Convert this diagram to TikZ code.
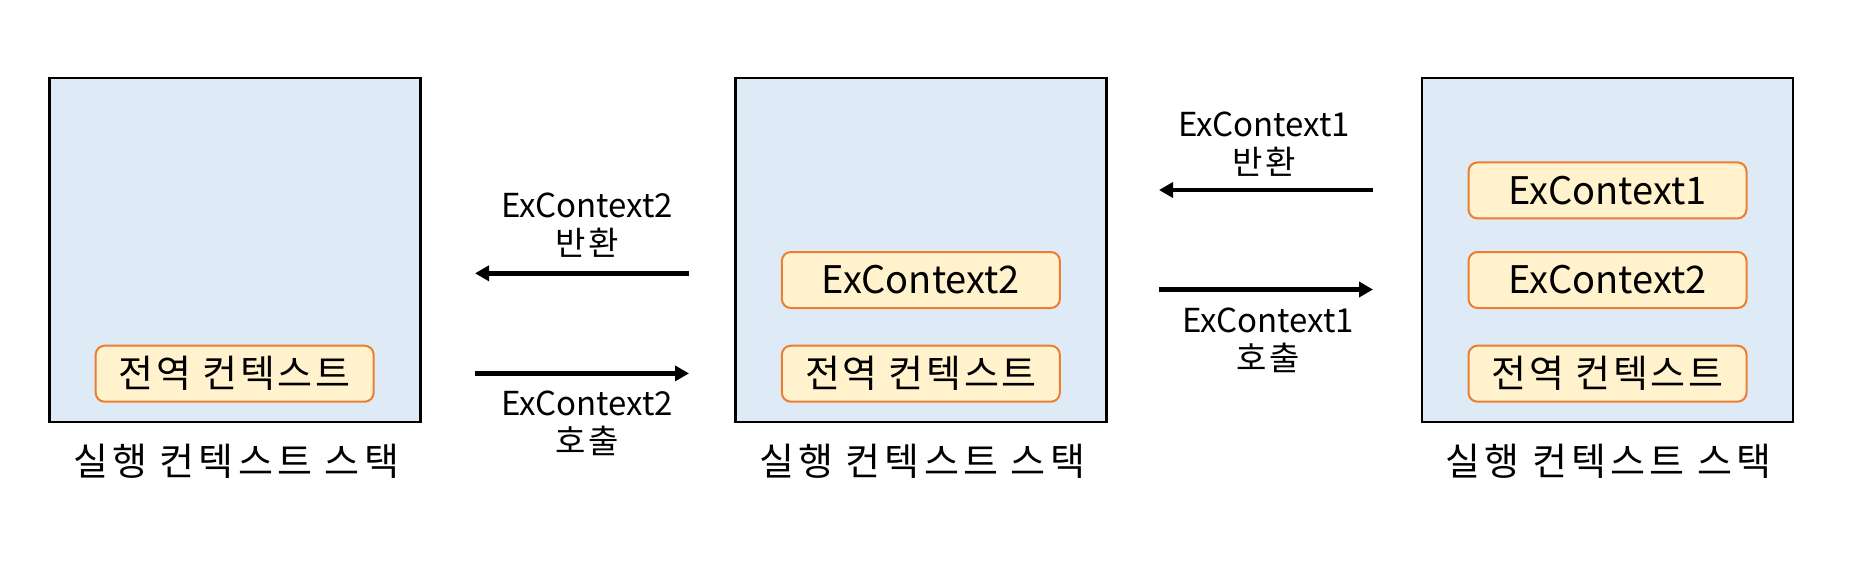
\documentclass[tikz,border=0pt]{standalone}
\usepackage{fontspec}
\setmainfont{Noto Sans CJK KR}
\newfontfamily\krwide[LetterSpace=7]{Noto Sans CJK KR}
\newfontfamily\krstack[LetterSpace=11]{Noto Sans CJK KR}
\usetikzlibrary{arrows.meta}
\definecolor{stackfill}{HTML}{DEEAF6}
\definecolor{ctxfill}{HTML}{FFF2CC}
\definecolor{ctxline}{HTML}{ED7D31}
\tikzset{
  stackbox/.style={draw=black, line width=2.5pt, fill=stackfill, minimum width=371pt, minimum height=344pt, inner sep=0pt},
  ctxbox/.style={draw=ctxline, line width=2pt, fill=ctxfill, rounded corners=9pt, minimum width=278pt, minimum height=56pt, inner sep=0pt, font=\fontsize{38}{44}\selectfont},
  krbox/.style={ctxbox, font=\krwide\fontsize{38}{44}\selectfont},
  stacklabel/.style={font=\krstack\fontsize{38}{44}\selectfont, inner sep=0pt},
  arrlabel/.style={font=\fontsize{33}{38}\selectfont, align=center, inner sep=0pt},
  flow/.style={line width=4.5pt, -{Triangle[length=14pt,width=15pt]}}
}
\begin{document}
\begin{tikzpicture}[x=1pt,y=-1pt]
\useasboundingbox (0,0) rectangle (1860,579);
% stacks
\node[stackbox] (s1) at (234.85,250) {};
\node[stackbox] (s2) at (920.75,250) {};
\node[stackbox] (s3) at (1607.35,250) {};
% contexts
\node[krbox] (g1) at (234.65,373.7) {전역 컨텍스트};
\node[krbox] (g2) at (920.85,373.7) {전역 컨텍스트};
\node[ctxbox] (e2b) at (920.85,280) {ExContext2};
\node[krbox] (g3) at (1607.5,373.7) {전역 컨텍스트};
\node[ctxbox] (e2c) at (1607.5,280) {ExContext2};
\node[ctxbox] (e1c) at (1607.5,190.4) {ExContext1};
% stack labels
\node[stacklabel] (l1) at (236,461.6) {실행 컨텍스트 스택};
\node[stacklabel] (l2) at (922,461.6) {실행 컨텍스트 스택};
\node[stacklabel] (l3) at (1608.5,461.6) {실행 컨텍스트 스택};
% arrow end points
\coordinate (a1s) at (689,273.3);
\coordinate (a1e) at (475,273.3);
\coordinate (a2s) at (475,373.4);
\coordinate (a2e) at (689,373.4);
\coordinate (a3s) at (1373,190);
\coordinate (a3e) at (1159,190);
\coordinate (a4s) at (1159,289.5);
\coordinate (a4e) at (1373,289.5);
\draw[flow] (a1s) -- (a1e);
\draw[flow] (a2s) -- (a2e);
\draw[flow] (a3s) -- (a3e);
\draw[flow] (a4s) -- (a4e);
% arrow labels
\node[arrlabel] (t1) at (587,224.7) {ExContext2\\{\krwide 반환}};
\node[arrlabel] (t2) at (587,423.7) {ExContext2\\{\krwide 호출}};
\node[arrlabel] (t3) at (1264,144) {ExContext1\\{\krwide 반환}};
\node[arrlabel] (t4) at (1268,340.7) {ExContext1\\{\krwide 호출}};
\end{tikzpicture}
\end{document}
